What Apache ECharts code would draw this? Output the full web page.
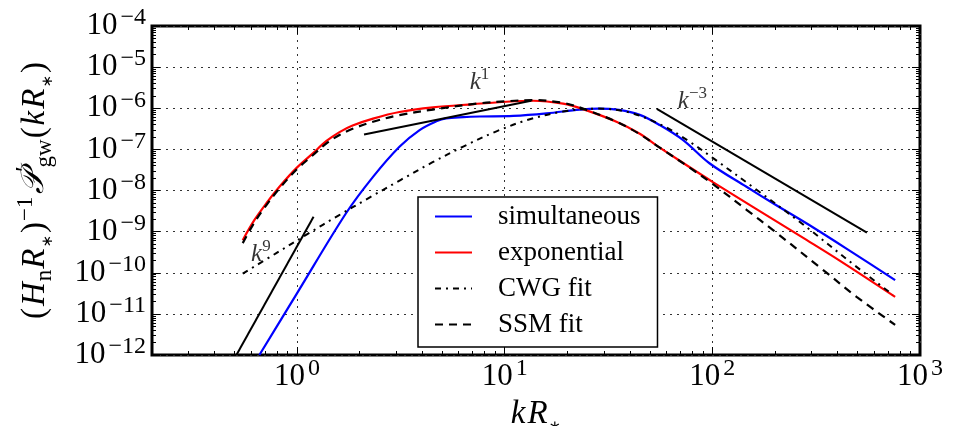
<!DOCTYPE html>
<html>
<head>
<meta charset="utf-8">
<script src="https://cdn.jsdelivr.net/npm/echarts@6/dist/echarts.min.js"></script>
<style>html,body{margin:0;padding:0;background:#fff;}#c{width:953px;height:426px;}</style>
</head>
<body>
<div id="c"></div>
<script>
// ---------------- data ----------------
const seriesNames = ['simultaneous', 'exponential', 'CWG fit', 'SSM fit'];

const simK = [0.658, 1.0, 1.72, 2.32, 3.11, 3.89, 4.68, 5.22, 6.31, 7.57, 11.0, 15.9, 23.0, 28.2, 35.5, 44.7, 55.8, 72.3, 96.8, 146, 196, 306, 478, 759];
const simP = [1.0e-12, 3.2e-11, 2.8e-9, 2.15e-8, 1.16e-7, 2.95e-7, 4.8e-7, 5.7e-7, 6.1e-7, 6.3e-7, 6.5e-7, 7.5e-7, 9.3e-7, 9.8e-7, 9.1e-7, 6.9e-7, 3.9e-7, 1.68e-7, 4.6e-8, 1.23e-8, 4.9e-9, 1.26e-9, 3.0e-10, 6.6e-11];

const expK = [0.547, 0.622, 0.710, 0.822, 0.989, 1.19, 1.38, 1.60, 1.85, 2.32, 3.11, 4.51, 7.08, 10.2, 13.7, 19.1, 23.8, 34.5, 44.7, 55.8, 70.8, 101, 158, 284, 412, 759];
const expP = [6.2e-10, 1.9e-9, 4.85e-9, 1.23e-8, 3.45e-8, 8.0e-8, 1.58e-7, 2.63e-7, 3.8e-7, 5.6e-7, 8.1e-7, 1.05e-6, 1.26e-6, 1.44e-6, 1.52e-6, 1.29e-6, 9.5e-7, 4.7e-7, 2.4e-7, 1.1e-7, 5.0e-8, 1.58e-8, 3.9e-9, 6.3e-10, 1.95e-10, 2.6e-11];

const cwgK = [0.547, 0.794, 1.12, 1.58, 2.24, 3.16, 4.47, 6.31, 9.12, 13.2, 19.1, 27.5, 39.8, 57.5, 75.9, 100, 162, 263, 479, 741];
const cwgP = [9.5e-11, 3.0e-10, 8.7e-10, 2.45e-9, 6.8e-9, 1.82e-8, 4.8e-8, 1.17e-7, 2.75e-7, 5.4e-7, 8.3e-7, 9.8e-7, 7.9e-7, 3.8e-7, 1.66e-7, 6.3e-8, 1.07e-8, 1.74e-9, 1.58e-10, 2.9e-11];

const ssmK = [0.547, 0.622, 0.710, 0.822, 0.989, 1.19, 1.38, 1.60, 1.85, 2.32, 3.11, 4.51, 7.57, 10.2, 13.5, 19.1, 23.8, 34.5, 44.7, 55.8, 78.0, 101, 146, 196, 342, 495, 759];
const ssmP = [5.25e-10, 1.66e-9, 4.37e-9, 1.12e-8, 3.16e-8, 7.2e-8, 1.38e-7, 2.24e-7, 3.16e-7, 4.7e-7, 6.8e-7, 9.3e-7, 1.32e-6, 1.48e-6, 1.58e-6, 1.35e-6, 9.8e-7, 4.7e-7, 2.34e-7, 1.1e-7, 3.55e-8, 1.41e-8, 3.4e-9, 1.09e-9, 1.16e-10, 2.6e-11, 5.4e-12];

// power-law guide segments (end points)
const k9K = [0.51, 1.2];   const k9P = [1.0e-12, 2.3e-9];
const k1K = [2.1, 13.4];   const k1P = [2.3e-7, 1.52e-6];
const km3K = [54, 555];    const km3P = [9.6e-7, 9.4e-10];

// guide annotations: anchor (k, P) and exponent text
const annoK = [6.78, 0.60, 68.2];
const annoP = [4.3e-6, 2.8e-10, 1.5e-6];
const annoExp = ['1', '9', '−3'];

// axes
const kMin = 0.2, kMax = 1000;
const pMinExp = -12, pMaxExp = -4;
const xTickExps = [0, 1, 2, 3];
const yTickExps = [-12, -11, -10, -9, -8, -7, -6, -5, -4];
const minorMult = [2, 3, 4, 5, 6, 7, 8, 9];

// ---------------- helpers ----------------
const L = Math.log10;
const F = 'Liberation Serif';
const toPts = (K, P) => K.map((k, i) => [L(k), L(P[i])]);
const xMin = L(kMin), xMax = L(kMax);
const xMinor = [], yMinor = [];
for (let e = -1; e < 3; e++) minorMult.forEach(m => { const v = L(m * Math.pow(10, e)); if (v >= xMin - 1e-9 && v <= xMax) xMinor.push(v); });
for (let e = pMinExp; e < pMaxExp; e++) minorMult.forEach(m => yMinor.push(L(m * Math.pow(10, e))));

const expText = e => (e < 0 ? '−' + (-e) : '' + e);
const tickFmt = v => '{b|10}{s|' + expText(Math.round(v)) + '}';
const tickRich = {
  b: { fontFamily: F, fontSize: 31, lineHeight: 40, color: '#000' },
  s: { fontFamily: F, fontSize: 24, lineHeight: 22, verticalAlign: 'top', padding: [0, 0, 0, 3], color: '#000' }
};
const titleRich = {
  r: { fontFamily: F, fontSize: 33, lineHeight: 42, padding: [0, 1, 0, 1], color: '#000' },
  i: { fontFamily: F, fontStyle: 'italic', fontSize: 33, lineHeight: 42, padding: [0, 1, 0, 1], color: '#000' },
  c: { fontFamily: 'DejaVu Serif, DejaVu Sans, serif', fontStyle: 'italic', fontSize: 32, lineHeight: 42, padding: [0, 1, 0, 2], color: '#000' },
  sub: { fontFamily: F, fontSize: 23, lineHeight: 22, verticalAlign: 'bottom', color: '#000' },
  ast: { fontFamily: 'DejaVu Sans', fontSize: 15, lineHeight: 25, verticalAlign: 'bottom', padding: [0, 1, 0, 0], color: '#000' },
  sup: { fontFamily: F, fontSize: 23, lineHeight: 22, verticalAlign: 'top', color: '#000' },
  pr: { fontFamily: F, fontSize: 25, lineHeight: 25, verticalAlign: 'top', width: 3, color: '#000' }
};
const annoRich = {
  i: { fontFamily: F, fontStyle: 'italic', fontSize: 25, lineHeight: 32, color: '#000' },
  s: { fontFamily: F, fontSize: 17, lineHeight: 17, verticalAlign: 'top', color: '#000' }
};

const grid = { color: '#333', type: [2, 5], width: 1 };
const tickStyle = { color: '#000', width: 1 };

function xAx(pos, vals, len, labels, split) {
  return {
    type: 'value', min: xMin, max: xMax, position: pos, gridIndex: 0,
    axisLine: { show: false, onZero: false },
    axisTick: { show: true, inside: true, length: len, lineStyle: tickStyle, customValues: vals },
    axisLabel: labels ? { show: true, customValues: vals, formatter: tickFmt, rich: tickRich, fontFamily: F, margin: 2 } : { show: false },
    splitLine: split ? { show: true, lineStyle: grid } : { show: false }
  };
}
function yAx(pos, vals, len, labels, split) {
  return {
    type: 'value', min: pMinExp, max: pMaxExp, position: pos, gridIndex: 0,
    axisLine: { show: false, onZero: false },
    axisTick: { show: true, inside: true, length: len, lineStyle: tickStyle, customValues: vals },
    axisLabel: labels ? { show: true, customValues: vals, formatter: tickFmt, rich: tickRich, fontFamily: F, margin: 6 } : { show: false },
    splitLine: split ? { show: true, lineStyle: grid } : { show: false }
  };
}

const xAxes = [
  xAx('bottom', xTickExps, 8, true, true),
  xAx('bottom', xMinor, 4, false, false),
  xAx('top', xTickExps, 8, false, false),
  xAx('top', xMinor, 4, false, false)
];
Object.assign(xAxes[0], {
  name: '{i|k}{i|R}{ast|∗}', nameLocation: 'middle', nameGap: 31,
  nameTextStyle: { rich: titleRich }
});
const yAxes = [
  yAx('left', yTickExps, 8, true, true),
  yAx('left', yMinor, 4, false, false),
  yAx('right', yTickExps, 8, false, false),
  yAx('right', yMinor, 4, false, false)
];
Object.assign(yAxes[0], {
  name: '{r|(}{i|H}{sub|n}{i|R}{ast|∗}{r|)}{sup|−1}{c|𝒫}{pr|′}{sub|gw}{r|(}{i|k}{i|R}{ast|∗}{r|)}',
  nameLocation: 'middle', nameGap: 96, nameRotate: 90,
  nameTextStyle: { rich: titleRich }
});

function lineSeries(name, pts, color, width, type, smooth) {
  return {
    name: name, type: 'line', data: pts, symbol: 'none', smooth: smooth,
    xAxisIndex: 0, yAxisIndex: 0, silent: true,
    lineStyle: { color: color, width: width, type: type },
    itemStyle: { color: color }, clip: true
  };
}

const series = [
  lineSeries(seriesNames[0], toPts(simK, simP), '#0000ff', 2.2, 'solid', 0.35),
  lineSeries(seriesNames[1], toPts(expK, expP), '#ff0000', 2.2, 'solid', 0.35),
  lineSeries(seriesNames[2], toPts(cwgK, cwgP), '#000000', 2, [6, 5, 2, 5], 0.35),
  lineSeries(seriesNames[3], toPts(ssmK, ssmP), '#000000', 2.2, [8, 6], 0.35),
  lineSeries('k9', toPts(k9K, k9P), '#000000', 2, 'solid', false),
  lineSeries('k1', toPts(k1K, k1P), '#000000', 2, 'solid', false),
  lineSeries('k-3', toPts(km3K, km3P), '#000000', 2, 'solid', false),
  {
    name: 'guides', type: 'scatter', symbolSize: 0, silent: true, xAxisIndex: 0, yAxisIndex: 0,
    data: annoK.map((k, i) => ({
      value: [L(k), L(annoP[i])],
      label: { formatter: '{i|k}{s|' + annoExp[i] + '}' }
    })),
    label: { show: true, position: 'right', distance: 0, rich: annoRich },
    z: 5
  }
];

const chart = echarts.init(document.getElementById('c'), null, { renderer: 'canvas' });
chart.setOption({
  animation: false,
  backgroundColor: '#fff',
  grid: { left: 152, right: 33, top: 26, bottom: 71, show: true, borderColor: '#000', borderWidth: 3, backgroundColor: 'transparent', containLabel: false, outerBoundsMode: 'none' },
  legend: {
    data: seriesNames, orient: 'vertical', left: 418, top: 197,
    padding: [6, 17, 9, 16], itemWidth: 37, itemHeight: 20, itemGap: 9,
    backgroundColor: '#fff', borderColor: '#000', borderWidth: 1.5, borderRadius: 0,
    selectedMode: false,
    itemStyle: { opacity: 0 },
    textStyle: { fontFamily: F, fontSize: 27, color: '#000', padding: [0, 0, 0, 21], width: 150 }
  },
  xAxis: xAxes,
  yAxis: yAxes,
  series: series
});
</script>
</body>
</html>
